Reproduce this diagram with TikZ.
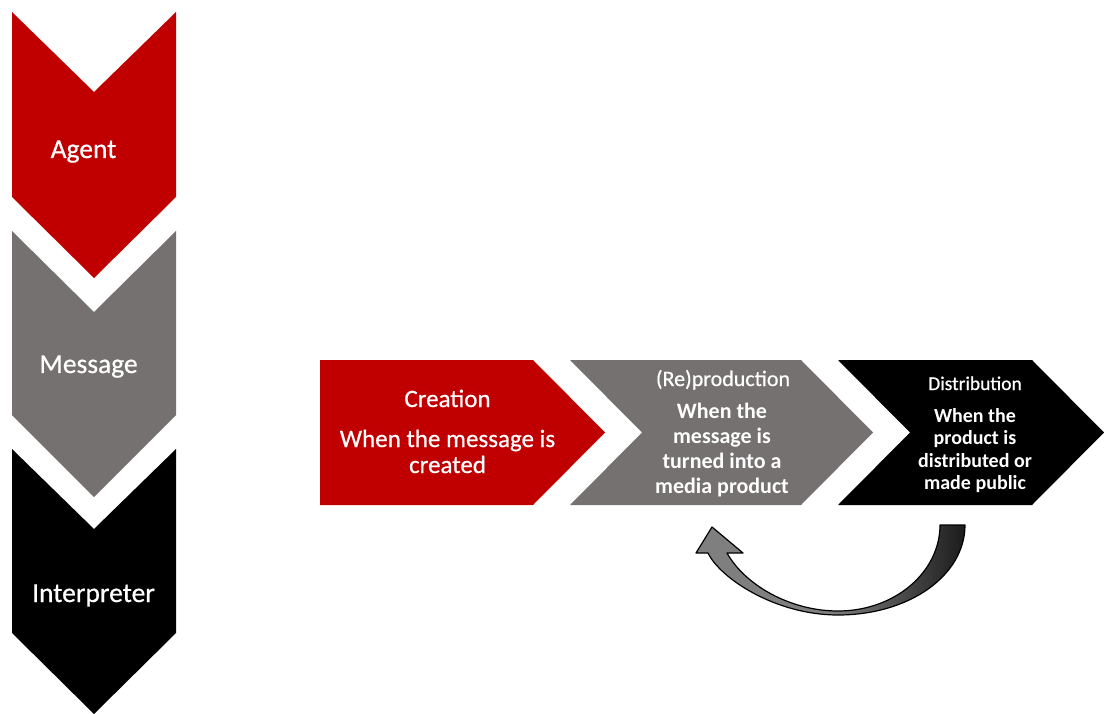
\documentclass[tikz,border=0pt]{standalone}
\usepackage{fontspec}
\setmainfont{Carlito}
\newfontfamily\semifont{Carlito}[FakeBold=0.6]
\definecolor{cred}{HTML}{C00000}
\definecolor{cgray}{HTML}{767171}
\definecolor{agray}{HTML}{7F7F7F}
\pgfdeclarehorizontalshading{arrowshade}{100bp}{color(0bp)=(agray); color(50bp)=(agray); color(82bp)=(black); color(100bp)=(black)}
\tikzset{
  lbl/.style={text=white, inner sep=0pt, anchor=base},
  vlbl/.style={lbl, font=\semifont\fontsize{27.5}{30}\selectfont},
  ctxt/.style={lbl, font=\semifont\fontsize{25}{27}\selectfont},
  rtxt/.style={lbl, font=\semifont\fontsize{22}{25}\selectfont},
  rbold/.style={lbl, font=\fontsize{22}{25}\selectfont\bfseries},
  dtxt/.style={lbl, font=\semifont\fontsize{19.5}{22}\selectfont},
  dbold/.style={lbl, font=\fontsize{20}{22}\selectfont\bfseries},
}
\begin{document}
\begin{tikzpicture}[x=1pt,y=-1pt]
\useasboundingbox (0,0) rectangle (1104,714);
% vertical chevrons
\fill[cred] (12,12) -- (94,92) -- (176,12) -- (176,197) -- (94,278) -- (12,197) -- cycle;
\fill[cgray] (12,231) -- (94,312) -- (176,231) -- (176,415) -- (94,497) -- (12,415) -- cycle;
\fill[black] (12,449) -- (94,529) -- (176,449) -- (176,633) -- (94,714) -- (12,633) -- cycle;
\node[vlbl] (agent) at (83.5,158) {Agent};
\node[vlbl] (message) at (88.5,373) {Message};
\node[vlbl] (interp) at (93.5,602) {Interpreter};
% horizontal chevrons
\fill[cred] (320,360) -- (533,360) -- (605,432.5) -- (533,505) -- (320,505) -- cycle;
\fill[cgray] (570,360) -- (801,360) -- (873,432.5) -- (801,505) -- (570,505) -- (642,432.5) -- cycle;
\fill[black] (838,360) -- (1032,360) -- (1104,432.5) -- (1032,505) -- (838,505) -- (910,432.5) -- cycle;
% creation
\node[ctxt] (c0) at (447.5,407) {Creation};
\node[ctxt] (c1) at (447.5,447) {When the message is};
\node[ctxt] (c2) at (447.5,473) {created};
% reproduction
\node[rtxt] (r0) at (723,386) {(Re)production};
\node[rbold] (r1) at (722,418) {When the};
\node[rbold] (r2) at (722,443) {message is};
\node[rbold] (r3) at (722,468) {turned into a};
\node[rbold] (r4) at (722,493) {media product};
% distribution
\node[dtxt] (d0) at (975,390) {Distribution};
\node[dbold] (d1) at (975,422) {When the};
\node[dbold] (d2) at (975,444) {product is};
\node[dbold] (d3) at (975,467) {distributed or};
\node[dbold] (d4) at (975,489) {made public};
% curved arrow
\shadedraw[shading=arrowshade, draw=black, line width=1.2pt, line join=round]
  (965,525) .. controls (965,575) and (910,615) .. (838,615)
  .. controls (775,615) and (720,578) .. (708,553)
  -- (696,553) -- (712,527) -- (743,553) -- (727,553)
  .. controls (745,585) and (790,611) .. (838,611)
  .. controls (895,611) and (940,572) .. (940,525) -- cycle;
\end{tikzpicture}
\end{document}
